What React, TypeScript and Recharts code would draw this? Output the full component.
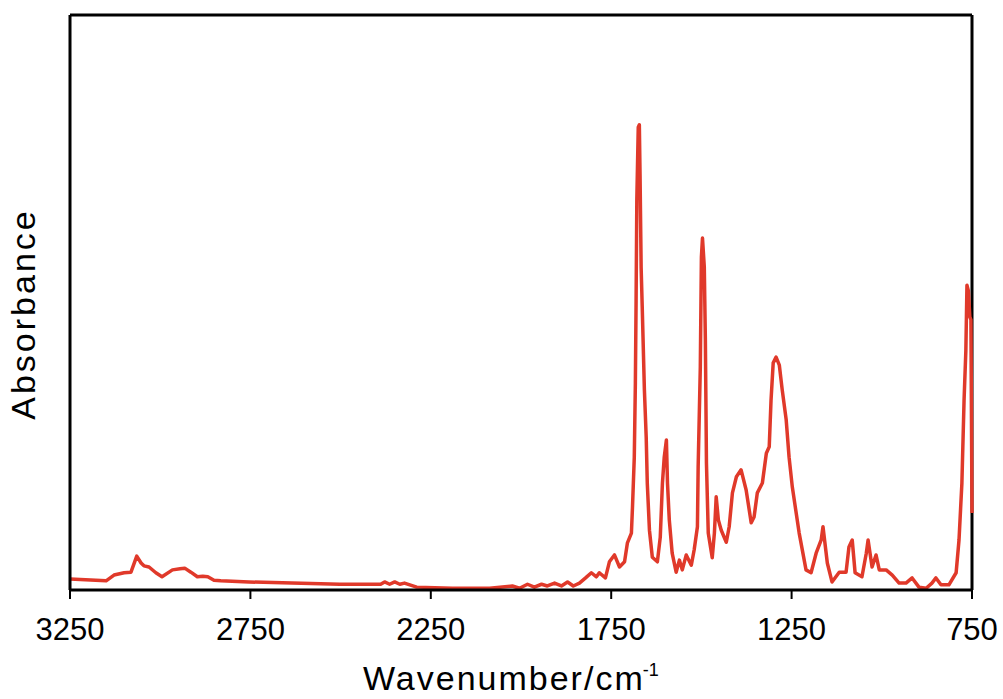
import { Line, LineChart, ReferenceLine, XAxis, YAxis, Label } from "recharts";

const wavenumber = [
  3250, 3150, 3128, 3100, 3081, 3065, 3053, 3045, 3031, 3012, 2995, 2966, 2945, 2932, 2915,
  2897, 2882, 2868, 2851, 2832, 2754, 2635, 2502, 2389, 2378, 2364, 2350, 2336, 2323, 2289,
  2190, 2087, 2024, 2004, 1982, 1963, 1943, 1927, 1907, 1888, 1871, 1855, 1838, 1821, 1805,
  1791, 1783, 1766, 1755, 1741, 1727, 1713, 1705, 1694, 1691, 1686, 1683, 1681, 1679, 1675,
  1672, 1670, 1667, 1664, 1658, 1653, 1650, 1644, 1636, 1622, 1614, 1608, 1603, 1597, 1594,
  1589, 1581, 1570, 1561, 1553, 1542, 1528, 1520, 1511, 1509, 1503, 1500, 1497, 1492, 1489,
  1486, 1481, 1470, 1464, 1459, 1453, 1445, 1431, 1423, 1414, 1403, 1390, 1376, 1362, 1354,
  1345, 1331, 1320, 1312, 1307, 1301, 1293, 1284, 1276, 1265, 1257, 1248, 1229, 1210, 1196,
  1182, 1168, 1163, 1151, 1138, 1118, 1099, 1091, 1082, 1074, 1055, 1043, 1038, 1027, 1016,
  1007, 988, 971, 952, 933, 916, 897, 877, 861, 850, 836, 814, 794, 786, 778,
  772, 767, 764, 760, 756, 753, 750,
];

const absorbance = [
  0.019, 0.016, 0.026, 0.03, 0.031, 0.059, 0.047, 0.042, 0.04, 0.03, 0.023, 0.035, 0.037, 0.038, 0.031,
  0.023, 0.024, 0.023, 0.017, 0.016, 0.014, 0.012, 0.01, 0.01, 0.014, 0.01, 0.014, 0.01, 0.012, 0.005,
  0.003, 0.003, 0.007, 0.003, 0.01, 0.005, 0.01, 0.007, 0.012, 0.007, 0.014, 0.007, 0.012, 0.021, 0.03,
  0.023, 0.03, 0.021, 0.049, 0.061, 0.04, 0.049, 0.082, 0.099, 0.144, 0.231, 0.36, 0.504, 0.678, 0.805,
  0.809, 0.72, 0.56, 0.492, 0.348, 0.266, 0.186, 0.104, 0.057, 0.049, 0.092, 0.186, 0.231, 0.261, 0.186,
  0.122, 0.064, 0.031, 0.052, 0.035, 0.061, 0.043, 0.07, 0.11, 0.214, 0.388, 0.579, 0.612, 0.562, 0.435,
  0.221, 0.099, 0.056, 0.099, 0.162, 0.122, 0.104, 0.083, 0.11, 0.169, 0.197, 0.209, 0.174, 0.117, 0.127,
  0.169, 0.186, 0.238, 0.249, 0.33, 0.395, 0.405, 0.391, 0.348, 0.296, 0.231, 0.179, 0.099, 0.035, 0.03,
  0.064, 0.087, 0.11, 0.047, 0.014, 0.031, 0.031, 0.075, 0.087, 0.03, 0.023, 0.064, 0.087, 0.04, 0.061,
  0.035, 0.035, 0.026, 0.012, 0.012, 0.021, 0.005, 0.003, 0.012, 0.021, 0.009, 0.009, 0.03, 0.087, 0.186,
  0.33, 0.417, 0.53, 0.52, 0.475, 0.47, 0.134,
];

const xTicks = [3250, 2750, 2250, 1750, 1250, 750];

const data = wavenumber.map((wn, i) => ({ wn, abs: absorbance[i] }));

const font = "'Liberation Sans', Arial, sans-serif";

function XTitle({ viewBox }: any) {
  return (
    <text x={363} y={690} fontSize={34} letterSpacing={2} fill="#000" fontFamily={font}>
      Wavenumber/cm
      <tspan fontSize={18} dy={-14} letterSpacing={0} dx={-2}>
        -1
      </tspan>
    </text>
  );
}

function YTitle({ viewBox }: any) {
  return (
    <text
      x={0}
      y={0}
      transform="translate(35, 314) rotate(-90)"
      textAnchor="middle"
      fontSize={34}
      letterSpacing={3}
      fill="#000"
      fontFamily={font}
    >
      Absorbance
    </text>
  );
}

export default function App() {
  return (
    <div style={{ position: "absolute", left: 0, top: 0, background: "#fff" }}>
      <LineChart width={1003} height={699} data={data} margin={{ top: 15, right: 31, bottom: 0, left: 0 }}>
        <XAxis
          dataKey="wn"
          type="number"
          domain={[750, 3250]}
          reversed
          ticks={xTicks}
          height={109}
          axisLine={{ stroke: "#000", strokeWidth: 3 }}
          tickLine={{ stroke: "#000", strokeWidth: 2 }}
          tickSize={9}
          tickMargin={19}
          tick={{ fill: "#000", fontSize: 31, fontFamily: font }}
          interval={0}
        >
          <Label content={<XTitle />} />
        </XAxis>
        <YAxis
          type="number"
          domain={[0, 1]}
          width={70}
          tick={false}
          tickLine={false}
          axisLine={{ stroke: "#000", strokeWidth: 3 }}
        >
          <Label content={<YTitle />} />
        </YAxis>
        <ReferenceLine y={1} stroke="#000" strokeWidth={3} />
        <ReferenceLine x={750} stroke="#000" strokeWidth={3} />
        <Line
          dataKey="abs"
          type="linear"
          stroke="#E0392A"
          strokeWidth={3.5}
          strokeLinejoin="round"
          dot={false}
          isAnimationActive={false}
        />
      </LineChart>
    </div>
  );
}
